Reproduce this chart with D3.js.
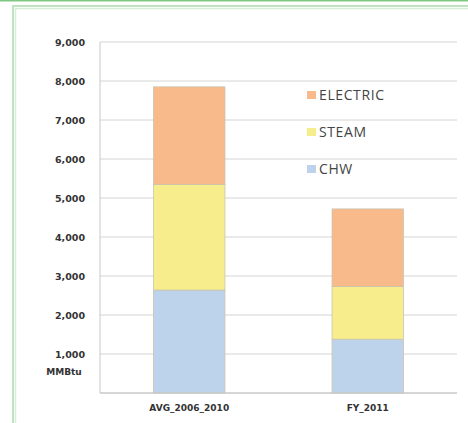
<!DOCTYPE html>
<html><head><meta charset="utf-8">
<script src="https://cdn.jsdelivr.net/npm/d3@7"></script>
<style>body{margin:0;background:#fff;}svg{display:block;}</style>
</head><body>
<svg id="c" width="468" height="423"></svg>
<script>
const categories = ["AVG_2006_2010", "FY_2011"];
const seriesNames = ["CHW", "STEAM", "ELECTRIC"];
const chw = [2640, 1380];
const steam = [2710, 1350];
const electric = [2500, 1990];
const yTicks = [1000, 2000, 3000, 4000, 5000, 6000, 7000, 8000, 9000];
const colors = {CHW: "#bdd3ec", STEAM: "#f7ed8c", ELECTRIC: "#f8b98b"};

const svg = d3.select("#c");
// frame
svg.append("rect").attr("x",0).attr("y",0).attr("width",468).attr("height",1.5).attr("fill","#7ec884");
svg.append("rect").attr("x",13).attr("y",6).attr("width",470).attr("height",430)
  .attr("fill","none").attr("stroke","#bfe2c1").attr("stroke-width",2);
svg.append("rect").attr("x",15.5).attr("y",8.5).attr("width",470).attr("height",430)
  .attr("fill","none").attr("stroke","#d6eed7").attr("stroke-width",1.5);

const x = d3.scaleBand().domain(categories).range([100, 457]).paddingInner(0.6).paddingOuter(0.3);
const y = d3.scaleLinear().domain([0, 9000]).range([393, 42]);

// gridlines
svg.append("g").selectAll("line").data(yTicks).join("line")
  .attr("x1",100).attr("x2",457).attr("y1",d=>y(d)).attr("y2",d=>y(d))
  .attr("stroke","#d4d4d4").attr("stroke-width",1);
// axes lines
svg.append("line").attr("x1",100).attr("x2",100).attr("y1",y(9000)).attr("y2",y(0)).attr("stroke","#c8c8c8");
svg.append("line").attr("x1",100).attr("x2",457).attr("y1",y(0)).attr("y2",y(0)).attr("stroke","#c8c8c8").attr("stroke-width",1.5);

// y tick labels
svg.append("g").selectAll("text").data(yTicks).join("text")
  .attr("x",85).attr("y",d=>y(d)+3.5).attr("text-anchor","end")
  .attr("font-family","DejaVu Sans").attr("font-weight","bold").attr("font-size",9.5)
  .attr("fill","#333").text(d3.format(","));
svg.append("text").attr("x",64).attr("y",y(0)-18).attr("text-anchor","middle")
  .attr("font-family","DejaVu Sans").attr("font-weight","bold").attr("font-size",9)
  .attr("fill","#333").text("MMBtu");

// stacked bars
const rows = categories.map((c,i)=>({cat:c, CHW:chw[i], STEAM:steam[i], ELECTRIC:electric[i]}));
const stack = d3.stack().keys(seriesNames)(rows);
svg.append("g").selectAll("g").data(stack).join("g")
  .attr("fill",d=>colors[d.key])
  .selectAll("rect").data(d=>d).join("rect")
  .attr("x",d=>x(d.data.cat)).attr("width",x.bandwidth())
  .attr("y",d=>y(d[1])).attr("height",d=>y(d[0])-y(d[1]))
  .attr("stroke","#c9c4b0").attr("stroke-width",0.8);

// x labels
svg.append("g").selectAll("text").data(categories).join("text")
  .attr("x",d=>x(d)+x.bandwidth()/2).attr("y",411).attr("text-anchor","middle")
  .attr("font-family","DejaVu Sans").attr("font-weight","bold").attr("font-size",9)
  .attr("fill","#333").text(d=>d);

// legend
const legendOrder = ["ELECTRIC","STEAM","CHW"];
const lg = svg.append("g").selectAll("g").data(legendOrder).join("g")
  .attr("transform",(d,i)=>`translate(307,${95+i*37})`);
lg.append("rect").attr("x",0).attr("y",-4).attr("width",9).attr("height",8).attr("fill",d=>colors[d]);
lg.append("text").attr("x",12).attr("y",5).attr("font-family","Open Sans").attr("font-size",14)
  .attr("letter-spacing",0.6).attr("fill","#444").text(d=>d);
</script>
</body></html>
